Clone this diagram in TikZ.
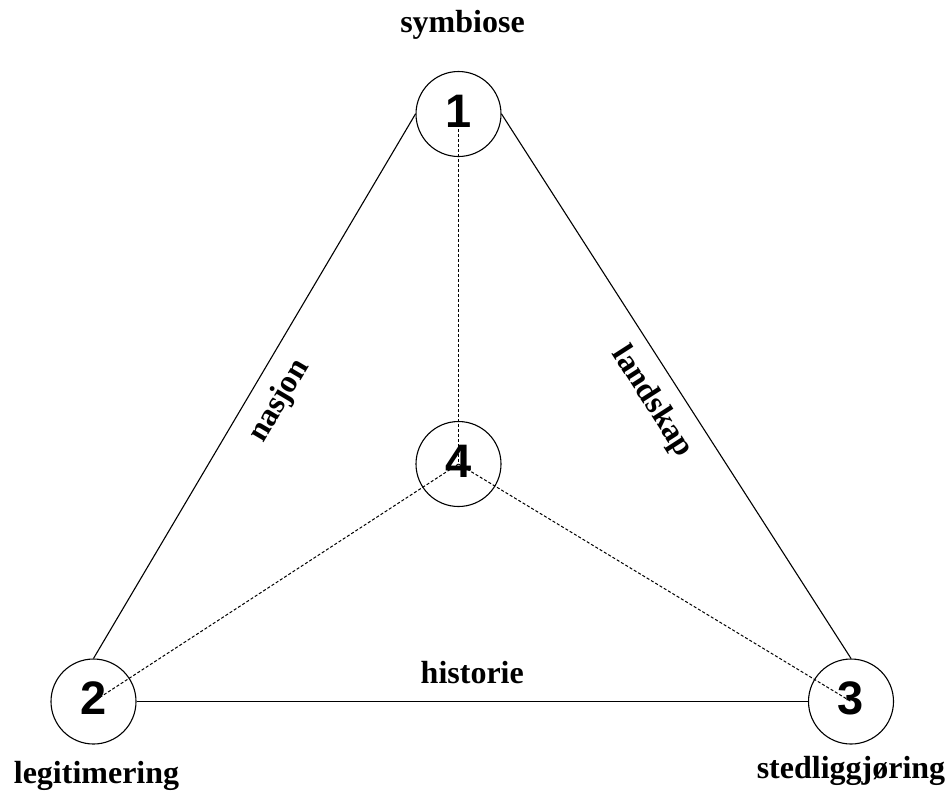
\documentclass[tikz,border=0pt]{standalone}
\usepackage{fontspec}
\setmainfont{Liberation Serif}
\newfontfamily\digitfont{Liberation Sans}
\usetikzlibrary{positioning}
\pgfdeclarelayer{bg}
\pgfsetlayers{bg,main}
\newcommand{\numfont}{\digitfont\bfseries\fontsize{47}{50}\selectfont}
\newcommand{\lblfont}{\bfseries\fontsize{32}{36}\selectfont}

\begin{document}
\begin{tikzpicture}[x=1pt, y=-1pt, line width=1.1pt,
    corner/.style={circle, draw, minimum size=85pt, inner sep=0pt,
                   font=\numfont, text depth=6pt},
    lbl/.style={inner sep=0pt, font=\lblfont},
    link/.style={dash pattern=on 3pt off 2pt, line width=1pt}]
    \useasboundingbox (0,0) rectangle (947,796);
    % the four numbered circles
    \node[corner] (c1) at (458.5,114) {1};
    \node[corner] (c2) at (93.5,701.5) {2};
    \node[corner] (c3) at (851,701.5) {3};
    \node[corner] (c4) at (458.5,464) {4};
    % corner names
    \node[lbl, above=31pt of c1, xshift=4pt] (sym) {symbiose};
    \node[lbl, below=16pt of c2, xshift=3pt] (leg) {legitimering};
    \node[lbl, below=11pt of c3] (sted) {stedliggjøring};
    % sides of the triangle
    \draw (c2.north) -- node[lbl, sloped, below=14pt] (nas) {nasjon} (c1.west);
    \draw (c1.east) -- node[lbl, sloped, below=14pt] (land) {landskap} (c3.north);
    \draw (c2) -- node[lbl, above=17pt] (hist) {historie} (c3);
    % dotted spokes to the middle (behind the digits)
    \begin{pgfonlayer}{bg}
      \draw[link] (c1.center) -- (c4.center);
      \draw[link] (c4.center) -- (c2.center);
      \draw[link] (c4.center) -- (c3.center);
    \end{pgfonlayer}
\end{tikzpicture}
\end{document}
